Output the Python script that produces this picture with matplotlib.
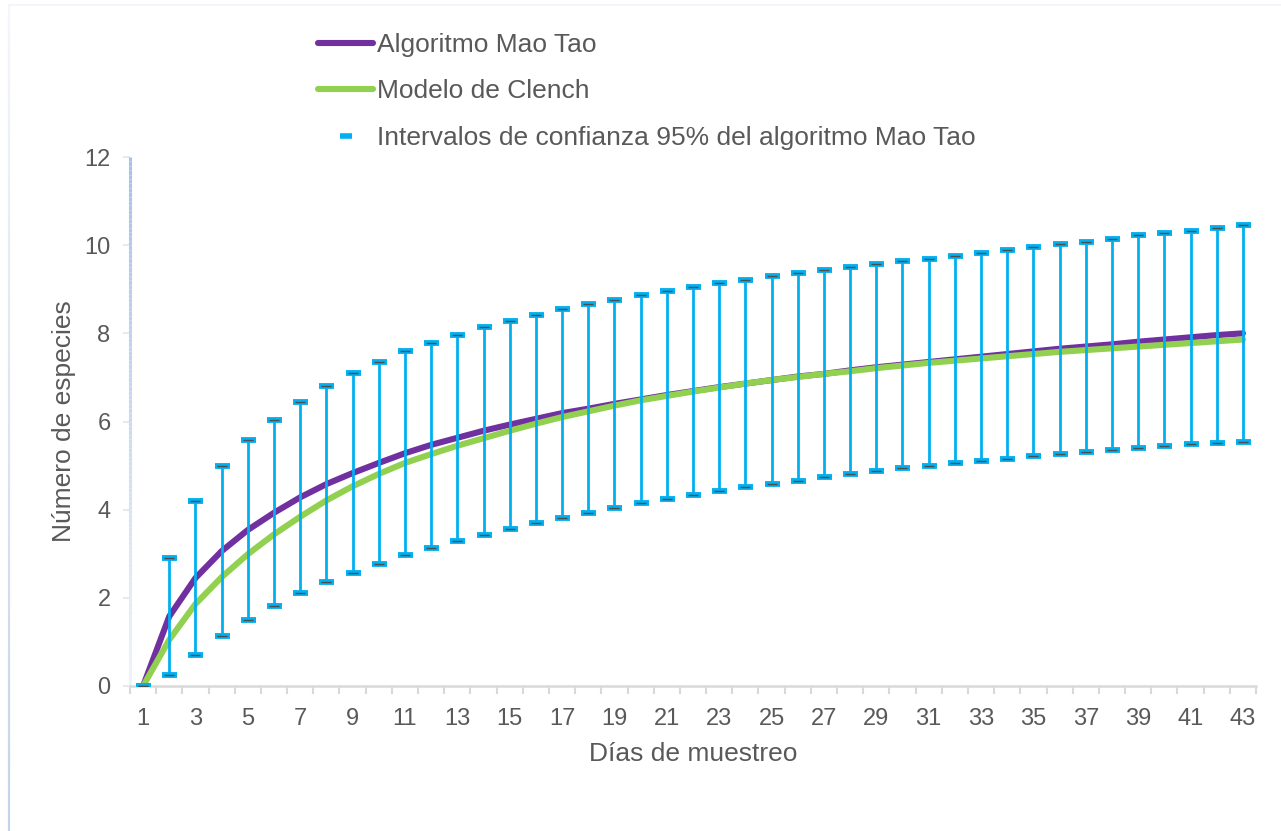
import numpy as np
import matplotlib
matplotlib.use("Agg")
import matplotlib.pyplot as plt
from matplotlib.collections import LineCollection
from matplotlib.lines import Line2D
from matplotlib.colors import to_rgba

plt.rcParams['font.family'] = ['Liberation Sans', 'DejaVu Sans']

# Sampling days
dias = list(range(1, 44))

# Species accumulation: Mao Tao estimate and its 95% confidence limits
mao_tao = [0.00, 1.58, 2.45, 3.06, 3.54, 3.93, 4.28, 4.58, 4.83, 5.06,
           5.28, 5.47, 5.63, 5.79, 5.93, 6.06, 6.19, 6.29, 6.40, 6.50,
           6.60, 6.69, 6.78, 6.86, 6.94, 7.02, 7.08, 7.16, 7.23, 7.29,
           7.35, 7.41, 7.47, 7.53, 7.59, 7.65, 7.70, 7.75, 7.81, 7.86,
           7.91, 7.96, 8.00]
ic_superior = [0.00, 2.91, 4.19, 4.99, 5.57, 6.04, 6.45, 6.80, 7.09, 7.35,
               7.59, 7.79, 7.97, 8.14, 8.29, 8.42, 8.55, 8.66, 8.76, 8.86,
               8.95, 9.04, 9.14, 9.21, 9.29, 9.37, 9.43, 9.51, 9.58, 9.64,
               9.69, 9.76, 9.83, 9.89, 9.96, 10.03, 10.08, 10.15, 10.22, 10.27,
               10.33, 10.40, 10.46]
ic_inferior = [0.00, 0.24, 0.70, 1.13, 1.50, 1.82, 2.10, 2.35, 2.57, 2.77,
               2.97, 3.14, 3.29, 3.43, 3.56, 3.70, 3.82, 3.92, 4.03, 4.14,
               4.24, 4.33, 4.42, 4.51, 4.58, 4.66, 4.73, 4.80, 4.88, 4.94,
               5.00, 5.05, 5.11, 5.16, 5.21, 5.26, 5.31, 5.35, 5.40, 5.44,
               5.48, 5.51, 5.54]

# Clench model fit
clench = [0.00, 1.05, 1.86, 2.47, 2.99, 3.44, 3.84, 4.21, 4.53, 4.81,
          5.06, 5.26, 5.45, 5.62, 5.79, 5.95, 6.10, 6.23, 6.36, 6.48,
          6.58, 6.68, 6.77, 6.86, 6.94, 7.01, 7.08, 7.14, 7.21, 7.27,
          7.33, 7.38, 7.43, 7.48, 7.53, 7.58, 7.62, 7.66, 7.70, 7.74,
          7.78, 7.82, 7.86]

y_ticks = [0, 2, 4, 6, 8, 10, 12]
x_ticklabels = [str(d) if d % 2 == 1 else "" for d in dias]

TEXT = "#595959"
PURPLE = "#7030A0"
GREEN = "#92D050"
CYAN = "#00B0F0"

fig = plt.figure(figsize=(12.81, 8.31), dpi=100)
ax = fig.add_axes([130 / 1281, 1 - 686 / 831, (1256 - 130) / 1281, (686 - 157) / 831])

# Outer chart frame (very light, bluish on the left edge)
def gradient_line(x0, y0, x1, y1, c0, c1, lw, n=120):
    xs = np.linspace(x0, x1, n + 1)
    ys = np.linspace(y0, y1, n + 1)
    segs = [[(xs[i], ys[i]), (xs[i + 1], ys[i + 1])] for i in range(n)]
    a, b = np.array(to_rgba(c0)), np.array(to_rgba(c1))
    cols = [a + (b - a) * t for t in np.linspace(0, 1, n)]
    return LineCollection(segs, colors=cols, linewidths=lw)

frame_left = gradient_line(8.5 / 1281, 1 - 5 / 831, 8.5 / 1281, 0, "#F3F6FB", "#C4D3EA", 1.6)
frame_left.set_transform(fig.transFigure)
fig.add_artist(frame_left)
fig.add_artist(Line2D([8.5 / 1281, 1], [1 - 5 / 831, 1 - 5 / 831], transform=fig.transFigure,
                      color="#F0F3F8", lw=1.2))

# Series
ax.plot(dias, mao_tao, color=PURPLE, lw=4.4, solid_capstyle="round",
        solid_joinstyle="round", zorder=3)
ax.plot(dias, clench, color=GREEN, lw=4.4, solid_capstyle="round",
        solid_joinstyle="round", zorder=4)

mt = np.array(mao_tao)
yerr = [mt - np.array(ic_inferior), np.array(ic_superior) - mt]
ax.errorbar(dias, mao_tao, yerr=yerr, fmt="none", ecolor=CYAN, elinewidth=2.0,
            capsize=5.4, capthick=4.2, zorder=5)
# Thin dark centre line on each cap marker
ax.plot(dias, ic_superior, ls="none", marker="_", ms=7.5, mew=1.0, color="#4D4D4D", zorder=6)
ax.plot(dias, ic_inferior, ls="none", marker="_", ms=7.5, mew=1.0, color="#4D4D4D", zorder=6)

# Axes
ax.set_xlim(0.5, 43.5)
ax.set_ylim(0, 12)
ax.set_yticks(y_ticks)
ax.set_yticklabels([str(v) for v in y_ticks])
ax.set_xticks(dias)
ax.set_xticklabels(x_ticklabels)
ax.set_xticks(np.arange(0.5, 44, 1), minor=True)

for s in ["top", "right", "left"]:
    ax.spines[s].set_visible(False)
ax.spines["bottom"].set_color("#D9D9D9")
ax.spines["bottom"].set_linewidth(1.8)

ax.tick_params(axis="x", which="major", length=0, pad=16, labelsize=17, labelcolor=TEXT)
ax.tick_params(axis="x", which="minor", length=5.5, width=1.5, color="#D9D9D9")
ax.tick_params(axis="y", which="major", length=5, width=1.5, color="#E3EAF4",
               pad=9, labelsize=17, labelcolor=TEXT)

# Vertical axis line fading towards the bottom
yspine = gradient_line(0, 1, 0, 0, "#A9C0E4", "#EEF3FA", 2.2)
yspine.set_transform(ax.transAxes)
yspine.set_clip_on(False)
ax.add_collection(yspine)

ax.set_xlabel("Días de muestreo", fontsize=19, color=TEXT, labelpad=8.5)
ax.set_ylabel("Número de especies", fontsize=19, color=TEXT, labelpad=6)

# Legend
handles = [
    Line2D([], [], color=PURPLE, lw=4.4, solid_capstyle="round"),
    Line2D([], [], color=GREEN, lw=4.4, solid_capstyle="round"),
    Line2D([], [], ls="none", marker="_", ms=9, mew=4.0, color=CYAN),
]
labels = ["Algoritmo Mao Tao", "Modelo de Clench",
          "Intervalos de confianza 95% del algoritmo Mao Tao"]
leg = fig.legend(handles, labels, loc="upper left",
                 bbox_to_anchor=(318 / 1281, 1 - 33 / 831), frameon=False,
                 fontsize=19, handlelength=2.1, handletextpad=0.12,
                 labelspacing=0.85, borderaxespad=0, borderpad=0)
for t in leg.get_texts():
    t.set_color(TEXT)

fig.savefig("out.png", dpi=100, facecolor="white")
